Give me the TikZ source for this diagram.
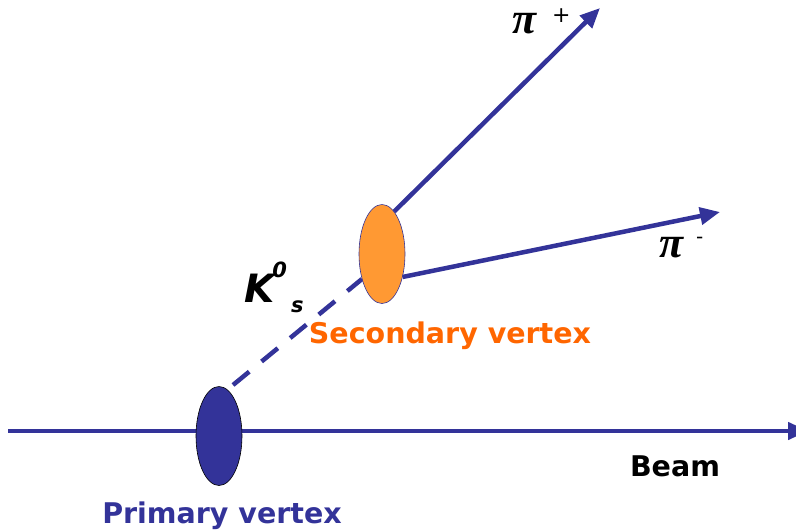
\documentclass[tikz,border=0pt]{standalone}
\usepackage{fontspec}
\setmainfont{DejaVu Sans}
\newfontfamily\pifont{Liberation Serif}
\usetikzlibrary{arrows.meta,shapes.geometric}
\definecolor{trackblue}{HTML}{333399}
\definecolor{vorange}{HTML}{FF9933}
\definecolor{torange}{HTML}{FF6600}
\tikzset{
  track/.style={trackblue, line width=4.5pt, -{Triangle[length=20pt,width=17pt]}},
  ktrack/.style={trackblue, line width=4.5pt, dash pattern=on 21pt off 16pt},
  vtx/.style={ellipse, minimum width=46pt, minimum height=99pt, inner sep=0pt, line width=0.6pt},
  lbl/.style={font=\bfseries\fontsize{28.5}{32}\selectfont, inner sep=0pt}
}
\begin{document}
\begin{tikzpicture}[x=1pt,y=-1pt]
\useasboundingbox (0,0) rectangle (796,531);
\clip (0,0) rectangle (796,531);
\coordinate (bstart) at (8,431);
\coordinate (bend) at (808,431);
\coordinate (kstart) at (233,385);
\coordinate (kend) at (362,279);
\coordinate (pipt) at (600,8);
\coordinate (pimt) at (720,212);
\draw[track] (bstart) -- (bend);
\draw[ktrack] (kstart) -- (kend);
\node[vtx, draw=black, fill=trackblue] (pv) at (219,436) {};
\node[vtx, draw=trackblue, fill=vorange] (sv) at (382,254) {};
\draw[track] (sv.74) -- (pipt);
\draw[track] (sv.-48) -- (pimt);
\node[lbl, text=torange] (svl) at (450,336) {Secondary vertex};
\node[lbl, text=trackblue] (pvl) at (222,516) {Primary vertex};
\node[lbl, text=black] (beam) at (675,466) {Beam};
\node[inner sep=0pt, anchor=base west] (pip) at (512,33) {{\pifont\bfseries\itshape\fontsize{44}{46}\selectfont π}\hspace{16pt}\raisebox{11pt}{\fontsize{22}{24}\selectfont +}};
\node[inner sep=0pt, anchor=base west] (pim) at (659,257) {{\pifont\bfseries\itshape\fontsize{44}{46}\selectfont π}\hspace{13pt}\raisebox{14pt}{\fontsize{20}{22}\selectfont -}};
\node[inner sep=0pt, anchor=base west] (k0s) at (244,302) {\bfseries\itshape\fontsize{39}{40}\selectfont K\hspace{-2pt}\raisebox{25pt}{\fontsize{21}{22}\selectfont 0}\hspace{4pt}\raisebox{-10pt}{\fontsize{21}{22}\selectfont s}};
\end{tikzpicture}
\end{document}
